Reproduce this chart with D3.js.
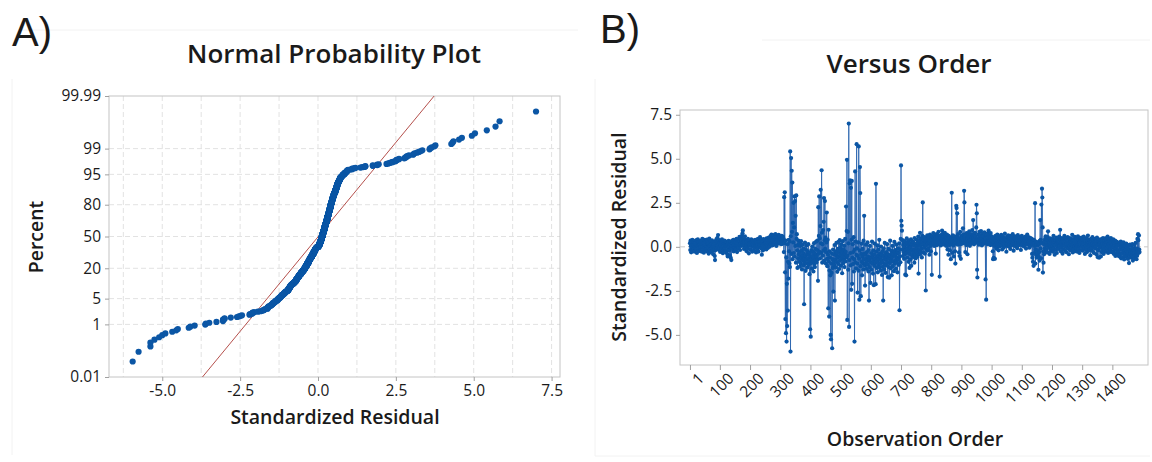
<!DOCTYPE html>
<html><head><meta charset="utf-8">
<script src="https://cdn.jsdelivr.net/npm/d3@7"></script>
<style>
html,body{margin:0;padding:0;background:#fff;}
svg text{font-family:"Open Sans","Noto Sans",sans-serif;fill:#1a1a1a;}
</style></head><body>
<svg id="chart" width="1152" height="462"></svg>
<script>
// Standardized residuals in observation order (obs 1..1490)
const residuals = [
0.21,-0.18,0.35,0.04,-0.31,0.12,0.27,-0.09,0.40,-0.22,
0.15,0.30,-0.12,0.08,-0.27,0.33,0.02,0.19,-0.06,0.26,
-0.15,0.38,0.11,-0.35,0.22,0.05,0.43,-0.10,0.17,0.29,
-0.24,0.09,0.31,0.14,-0.03,0.25,-0.19,0.36,0.07,-0.28,
0.18,0.45,0.01,-0.14,0.28,0.13,-0.33,0.20,0.39,-0.07,
0.10,-0.21,0.34,0.24,-0.11,0.06,0.41,-0.26,0.16,0.30,
-0.04,0.23,-0.38,0.12,0.47,0.03,-0.16,0.27,0.09,-0.30,
0.32,0.14,-0.08,0.37,-0.23,0.19,0.05,-0.42,0.25,0.11,
-0.13,0.29,-0.52,-0.75,-0.20,0.16,0.35,0.02,0.44,-0.10,
0.22,0.51,0.08,0.67,0.30,-0.17,0.13,0.38,-0.05,0.26,
-0.29,0.18,0.07,0.33,-0.12,0.24,0.42,-0.02,0.15,-0.36,
0.28,0.04,-0.19,0.21,0.36,-0.09,0.12,0.31,-0.25,0.17,
0.06,-0.33,0.26,0.10,-0.44,-0.55,0.19,-0.14,0.34,0.01,
-0.21,0.23,-0.48,0.14,0.29,-0.62,-0.07,-0.75,0.09,0.20,
0.35,-0.11,0.18,0.03,0.40,-0.26,0.13,0.27,-0.04,0.22,
0.11,0.32,-0.15,0.24,0.46,0.07,-0.30,0.19,0.37,0.02,
0.25,-0.08,0.41,0.15,0.56,0.30,-0.18,0.12,0.48,0.21,
0.05,0.34,0.62,0.18,0.77,0.93,0.44,0.08,0.28,-0.12,
0.36,0.14,0.60,-0.06,0.23,0.39,0.10,-0.24,0.31,0.17,
-0.09,0.27,0.45,0.04,0.20,-0.37,0.13,0.35,0.08,0.26,
0.18,-0.16,0.30,0.42,0.06,0.24,-0.28,0.15,0.37,0.01,
0.29,0.11,-0.21,0.33,0.19,-0.05,0.40,0.22,0.07,-0.32,
0.14,0.38,0.25,-0.13,0.09,0.46,0.16,-0.27,0.31,0.20,
0.03,0.27,0.55,0.35,0.12,-0.08,0.23,0.41,-0.45,0.18,
0.32,0.06,-0.20,0.26,0.44,0.13,-0.11,0.36,0.21,0.02,
0.39,0.17,0.28,-0.15,0.48,0.10,0.33,0.24,-0.06,0.42,
0.20,0.53,0.12,0.35,0.01,0.45,0.27,0.61,0.16,0.38,
0.70,0.25,0.49,0.08,0.34,0.57,0.19,0.43,0.66,0.30,
0.14,0.52,0.37,0.72,0.26,0.46,0.05,0.58,0.32,0.64,
0.41,0.22,0.55,0.35,0.68,0.18,0.47,0.29,0.60,0.38,
0.24,0.51,0.42,0.15,0.63,0.33,0.48,0.20,0.57,0.36,
0.45,-0.30,2.82,0.20,3.10,-1.45,-4.10,0.35,-4.90,-0.60,
-5.38,-2.10,-4.50,0.15,-3.62,-0.85,-1.80,0.40,-0.25,-0.95,
0.30,-1.15,5.42,-5.95,0.60,5.04,-0.40,4.32,0.85,3.65,
-0.70,1.36,0.25,2.50,-0.35,1.10,2.86,-0.55,2.60,0.05,
1.76,-0.90,2.92,0.45,0.72,-0.20,-1.20,0.10,-0.65,0.35,
-0.42,0.18,-0.85,-0.30,-1.12,0.05,-0.58,-0.95,0.32,-0.66,
-0.20,-1.28,-0.48,0.12,-0.77,-0.35,-1.05,-0.10,-3.26,-0.62,
-0.88,0.24,-0.51,-1.36,-0.15,-0.72,0.08,-0.94,-0.40,-1.18,
-0.26,-0.67,0.15,-1.02,-0.45,-0.81,-1.55,-0.33,-4.68,-0.57,
-5.10,-0.92,-0.18,-0.70,-1.24,0.02,-0.53,-0.86,-0.29,-1.40,
-0.64,0.21,-0.98,-0.37,-1.15,-0.12,-0.75,-0.46,0.30,-0.89,
-0.55,-0.18,0.35,-0.72,-1.93,2.25,-0.40,0.62,2.86,-0.28,
0.48,-0.65,1.18,3.24,0.20,-0.35,4.35,0.80,-0.90,0.15,
-0.50,0.95,-0.22,1.42,2.77,-0.78,0.38,2.60,-0.12,0.52,
-0.95,-0.30,0.25,1.95,-0.68,-1.10,0.40,-0.45,-3.49,0.97,
-0.82,-3.96,-1.35,-0.25,-0.60,-1.62,-5.00,-5.25,-0.95,-1.48,
-0.38,-5.76,-0.70,-1.20,-0.15,-2.54,-0.88,-0.42,-1.05,0.10,
-3.05,-0.72,-0.25,-1.18,-0.48,0.22,-0.86,-0.33,-1.42,-0.61,
-0.12,-0.97,0.28,-0.54,-1.26,-0.27,0.38,-0.78,-0.06,-0.45,
-1.08,0.14,-0.66,-0.35,-1.50,-0.20,0.32,-0.92,-0.52,-0.15,
-0.74,0.06,-1.15,-0.40,0.45,-0.83,-0.28,2.29,-0.60,0.90,
4.94,-4.15,-0.50,0.85,-1.30,0.20,7.00,-4.55,-0.75,3.60,
3.77,-0.35,-1.05,3.35,-2.44,0.40,3.74,-2.10,-0.62,0.15,
-0.98,-0.30,0.55,-1.40,-0.70,-5.38,-0.15,4.28,-0.88,0.30,
-1.22,-0.46,5.83,-0.08,-0.95,-2.60,-0.52,0.25,-1.35,5.70,
-0.67,-3.00,-0.20,4.53,3.05,-1.10,-2.80,-0.40,-0.85,0.18,
-1.62,-0.55,-0.12,-0.93,-1.28,0.35,-0.70,1.76,-0.38,-1.05,
-2.20,-0.45,-0.92,0.12,-0.68,-1.25,-0.30,-0.80,0.25,-1.02,
-0.55,-1.40,-0.18,-3.05,-0.72,-1.15,0.05,-0.60,-2.05,-0.88,
-0.35,-1.30,-0.62,0.30,-0.95,-0.48,-1.52,-0.20,-0.77,-2.18,
-0.42,-1.08,0.18,-0.66,-0.90,-2.12,3.58,-0.28,-1.20,-0.56,
-0.83,0.08,-1.45,-0.50,-0.15,-1.02,-0.70,0.40,-1.18,-0.38,
-0.95,-0.60,-1.35,0.02,-0.78,-0.45,-1.60,-0.25,-0.88,-1.12,
-3.05,-0.52,-0.10,-1.28,-0.68,0.22,-0.98,-0.40,-1.48,-0.74,
-0.30,-1.05,-0.58,0.15,-0.86,-1.72,-0.42,-0.12,-1.15,-0.64,
-1.75,-0.48,-0.92,0.35,-0.70,-1.22,-0.20,-0.80,-1.62,-0.36,
-0.58,0.05,-1.10,-0.44,-0.82,-1.38,-0.25,0.28,-0.96,-0.52,
-0.18,-0.75,-1.25,-0.40,0.12,-0.90,-0.62,-1.45,-0.30,-0.08,
-0.70,-0.35,-1.02,0.20,-3.60,-0.55,-0.15,-0.88,0.45,4.62,
1.48,1.20,0.92,-0.15,0.38,-0.52,0.10,-0.30,0.25,-0.68,
-0.05,0.32,-0.42,-1.58,-0.20,0.15,-1.62,-0.35,0.48,-0.10,
-0.62,0.22,-0.28,0.05,-0.85,0.36,-0.12,-1.20,-0.40,0.18,
-0.05,-0.72,0.42,-1.08,-0.22,0.12,-0.48,0.30,-0.15,-0.58,
0.26,-0.32,0.08,-0.90,0.50,-0.18,-0.45,0.16,-0.65,0.02,
-0.25,0.40,-0.08,-0.55,0.22,-0.35,0.58,-1.52,0.10,-0.20,
0.32,-0.42,0.80,0.05,-0.28,0.45,-0.12,0.18,-0.60,0.28,
0.62,2.52,0.15,-0.32,0.40,-0.05,0.55,0.20,-0.38,0.12,
0.35,-2.48,0.08,0.48,-0.15,0.30,0.65,-0.22,0.18,0.42,
-0.10,0.52,0.25,-0.45,0.38,0.70,0.05,0.33,-0.25,0.58,
0.45,-1.59,0.22,0.60,0.35,0.12,0.78,0.28,0.50,0.05,
0.40,0.65,0.18,0.32,-0.38,0.55,0.26,0.72,0.10,0.44,
0.30,0.58,0.15,0.85,0.38,0.20,0.48,-1.69,0.62,0.25,
0.52,0.08,0.40,0.68,0.34,0.92,0.16,0.45,0.28,0.75,
0.36,0.55,0.12,0.42,0.80,0.22,0.60,0.30,0.48,0.05,
0.38,0.70,0.25,-0.15,0.46,0.18,-0.45,0.62,0.32,0.10,
0.55,-0.20,0.40,0.28,-0.70,0.15,0.50,3.07,0.35,-0.35,
0.22,0.65,0.08,0.42,-0.55,0.30,0.58,0.18,-0.25,-0.95,
0.45,0.25,2.33,2.20,0.60,1.90,0.38,0.12,0.72,0.28,
0.50,-0.32,0.20,-0.52,0.44,0.85,0.15,-0.68,0.36,0.58,
0.30,0.65,0.18,0.48,1.05,0.26,0.40,0.70,3.18,2.52,
0.55,0.22,-0.30,0.62,0.38,0.10,0.78,0.32,0.50,-0.42,
0.45,0.28,0.68,0.15,0.52,0.88,0.35,0.06,0.60,0.40,
0.25,0.72,0.42,0.18,0.55,0.95,0.30,0.62,1.52,0.48,
0.35,0.14,0.66,0.40,0.80,0.22,0.58,0.32,1.10,2.39,
1.90,-1.30,-1.74,0.45,0.28,0.70,0.38,0.12,0.55,0.85,
0.42,0.20,0.64,0.36,0.90,0.25,0.50,0.08,0.74,0.44,
0.30,0.58,0.16,0.62,0.40,0.82,0.26,0.52,0.35,-1.85,
0.48,-3.00,0.22,0.65,0.38,0.75,0.15,0.55,0.30,0.92,
0.40,0.18,0.68,0.34,0.52,0.10,0.78,0.44,0.25,0.60,
0.35,0.12,0.55,-0.25,-0.70,0.28,-0.62,0.45,0.18,0.05,
-0.68,0.30,0.62,0.15,0.40,-0.10,0.52,0.22,0.70,0.08,
0.38,0.18,-0.20,0.48,0.26,0.60,0.02,0.35,0.14,0.50,
0.24,0.68,0.10,0.42,-0.15,0.32,0.56,0.20,0.44,-0.05,
0.30,0.50,0.16,0.75,0.28,0.06,0.46,0.22,-0.28,0.38,
0.12,0.58,0.34,0.20,0.65,0.02,0.40,0.26,0.52,0.15,
0.44,-0.12,0.30,0.62,0.18,0.36,0.08,0.54,0.25,0.72,
0.20,0.40,-0.22,0.32,0.56,0.14,0.46,0.28,0.04,0.60,
0.36,0.18,0.50,0.26,-0.08,0.42,0.66,0.22,0.34,0.10,
0.48,0.30,0.12,0.55,0.24,0.38,-0.18,0.44,0.16,0.62,
0.28,0.08,0.40,0.20,0.52,0.34,0.02,0.46,0.26,0.14,
0.38,0.58,0.22,-0.10,0.32,0.48,0.16,0.70,0.28,0.40,
0.12,0.35,0.55,0.24,-0.05,0.42,0.18,0.30,0.50,0.06,
0.34,0.22,0.46,-0.40,-0.62,0.15,-0.85,0.28,-1.08,0.40,
0.20,-0.35,0.05,2.48,-0.95,-0.15,0.30,-0.48,0.12,-0.62,
-0.22,0.25,-0.40,0.10,-1.30,-0.55,0.18,-0.30,-0.78,0.35,
1.52,-0.10,0.40,-0.65,2.40,0.22,3.30,2.80,1.10,-1.46,
-0.25,-0.90,0.15,-0.42,0.32,-0.08,0.45,-0.30,0.60,0.10,
0.28,-0.15,0.42,0.10,-0.32,0.55,0.88,0.20,-0.05,0.35,
0.12,-0.40,0.25,0.48,0.02,-0.22,0.38,0.15,-0.10,0.30,
0.05,0.44,-0.28,0.20,0.62,-0.08,0.32,0.10,-0.45,0.26,
0.40,0.08,-0.18,0.52,0.22,-0.35,0.14,0.46,0.00,0.28,
-0.12,0.36,0.18,0.58,0.05,0.30,0.97,0.42,-0.25,0.12,
0.24,-0.06,0.50,0.16,-0.38,0.34,0.08,0.45,-0.15,0.20,
0.62,0.10,-0.22,0.32,0.04,0.48,-0.30,0.18,0.40,-0.02,
0.26,0.55,-0.10,0.14,0.36,-0.42,0.22,0.06,0.50,0.18,
-0.20,0.30,0.12,0.44,-0.05,0.25,0.68,0.08,-0.32,0.38,
0.15,-0.15,0.42,0.20,0.02,0.56,-0.25,0.30,0.10,-0.08,
0.35,0.48,0.05,-0.28,0.22,0.60,0.12,-0.12,0.40,0.18,
-0.35,0.26,0.08,0.46,0.14,-0.18,0.32,0.52,0.00,0.24,
0.10,-0.22,0.38,0.18,0.58,-0.05,0.28,0.42,-0.40,0.15,
0.30,0.05,-0.14,0.50,0.20,-0.30,0.36,0.12,0.64,-0.02,
0.22,0.40,-0.20,0.08,0.34,0.16,-0.48,0.26,0.45,0.02,
-0.10,0.30,0.14,0.55,-0.25,0.20,0.38,0.06,-0.35,0.28,
0.12,0.46,-0.08,0.24,0.04,0.35,-0.42,0.18,0.52,-0.15,
-0.58,0.10,0.32,-0.20,0.42,-0.62,0.15,0.28,-0.05,0.38,
0.20,-0.55,0.08,0.44,-0.30,0.25,0.12,-0.12,0.50,0.02,
-0.40,0.30,0.18,-0.18,0.36,0.06,0.48,-0.28,0.22,0.10,
0.40,-0.10,0.26,0.58,0.04,-0.35,0.32,0.14,-0.22,0.45,
0.16,0.34,-0.12,0.22,0.50,-0.30,0.08,0.28,-0.05,0.38,
0.12,-0.25,0.42,0.02,-0.40,0.24,0.10,-0.15,0.35,-0.52,
0.20,-0.08,0.30,-0.35,0.05,0.18,-0.48,0.26,-0.20,0.10,
-0.30,0.15,-0.55,0.08,0.22,-0.42,-0.12,0.30,-0.65,-0.02,
0.12,-0.38,-0.18,0.20,-0.60,-0.05,0.25,-0.30,-0.72,0.05,
-0.22,-0.48,0.10,-0.35,-0.15,0.18,-0.55,-0.28,0.02,-0.42,
-0.68,-0.10,-0.32,0.08,-0.92,-0.45,-0.20,0.12,-0.58,-0.25,
-0.38,0.05,-0.62,-0.15,-0.48,0.15,-0.30,-0.78,-0.08,-0.40,
-0.20,-0.55,0.10,-0.35,-0.65,-0.12,0.22,-0.45,-0.28,-0.70,
-0.10,-0.50,0.45,-0.25,0.72,0.38,-0.35,0.65,-0.15,-0.30
];

// Axis ticks / labels
const percentTicks = [0.01, 1, 5, 20, 50, 80, 95, 99, 99.99];
const percentTickLabels = ["0.01", "1", "5", "20", "50", "80", "95", "99", "99.99"];
const percentGrid = [1, 5, 20, 50, 80, 95, 99];
const residualTicks = [-5, -2.5, 0, 2.5, 5, 7.5];
const residualTickLabels = ["-5.0", "-2.5", "0.0", "2.5", "5.0", "7.5"];
const residualGrid = [-6.25, -5, -3.75, -2.5, -1.25, 0, 1.25, 2.5, 3.75, 5, 6.25, 7.5];
const orderTicks = [1, 100, 200, 300, 400, 500, 600, 700, 800, 900, 1000, 1100, 1200, 1300, 1400];
const residualDomain = [-6.71, 7.77];
const orderDomain = [-32, 1518];
// Fitted normal reference line
const fitMean = [0.01];
const fitSd = [1.0];

function probit(p){
  const a=[-3.969683028665376e+01,2.209460984245205e+02,-2.759285104469687e+02,1.383577518672690e+02,-3.066479806614716e+01,2.506628277459239e+00];
  const b=[-5.447609879822406e+01,1.615858368580409e+02,-1.556989798598866e+02,6.680131188771972e+01,-1.328068155288572e+01];
  const c=[-7.784894002430293e-03,-3.223964580411365e-01,-2.400758277161838e+00,-2.549732539343734e+00,4.374664141464968e+00,2.938163982698783e+00];
  const d=[7.784695709041462e-03,3.224671290700398e-01,2.445134137142996e+00,3.754408661907416e+00];
  const pl=0.02425, ph=1-pl; let q,r;
  if(p<pl){q=Math.sqrt(-2*Math.log(p));return (((((c[0]*q+c[1])*q+c[2])*q+c[3])*q+c[4])*q+c[5])/((((d[0]*q+d[1])*q+d[2])*q+d[3])*q+1);}
  if(p<=ph){q=p-0.5;r=q*q;return (((((a[0]*r+a[1])*r+a[2])*r+a[3])*r+a[4])*r+a[5])*q/(((((b[0]*r+b[1])*r+b[2])*r+b[3])*r+b[4])*r+1);}
  q=Math.sqrt(-2*Math.log(1-p));return -(((((c[0]*q+c[1])*q+c[2])*q+c[3])*q+c[4])*q+c[5])/((((d[0]*q+d[1])*q+d[2])*q+d[3])*q+1);
}

const BLUE = "#0b56a5";
const svg = d3.select("#chart");

// faint panel frames as in the source image
svg.append("path").attr("d", "M12,79 V455 M20,30 H578").attr("stroke", "#f2f2f2").attr("fill", "none");
svg.append("path").attr("d", "M595,79 V456 H1150 M762,40 H1150").attr("stroke", "#f2f2f2").attr("fill", "none");

// ---------- Panel A: Normal probability plot ----------
const A = {x0:109, x1:560, y0:96, y1:377};
const zMax = probit(0.9999);
const xA = d3.scaleLinear().domain(residualDomain).range([A.x0, A.x1]);
const yA = d3.scaleLinear().domain([-zMax, zMax]).range([A.y1, A.y0]);
const gA = svg.append("g");

gA.append("text").attr("x", 12).attr("y", 46).text("A)")
  .style("font-family", "'Liberation Sans',Arial,sans-serif").style("font-size", "40px");
gA.append("text").attr("x", 334).attr("y", 63).attr("text-anchor", "middle")
  .style("font-size", "26px").style("font-weight", 600).text("Normal Probability Plot");

gA.selectAll(".gx").data(residualGrid).join("line")
  .attr("x1", d => xA(d)).attr("x2", d => xA(d)).attr("y1", A.y0).attr("y2", A.y1)
  .attr("stroke", "#e2e2e2").attr("stroke-dasharray", "5,3");
gA.selectAll(".gy").data(percentGrid).join("line")
  .attr("x1", A.x0).attr("x2", A.x1).attr("y1", d => yA(probit(d/100))).attr("y2", d => yA(probit(d/100)))
  .attr("stroke", "#e2e2e2").attr("stroke-dasharray", "5,3");

gA.append("rect").attr("x", A.x0).attr("y", A.y0).attr("width", A.x1 - A.x0).attr("height", A.y1 - A.y0)
  .attr("fill", "none").attr("stroke", "#c4c4c4");

const axAy = d3.axisLeft(yA).tickValues(percentTicks.map(p => probit(p/100)))
  .tickFormat((d, i) => percentTickLabels[i]).tickSize(4).tickPadding(4);
const gAy = gA.append("g").attr("transform", `translate(${A.x0},0)`).call(axAy);
const axAx = d3.axisBottom(xA).tickValues(residualTicks)
  .tickFormat((d, i) => residualTickLabels[i]).tickSize(4).tickPadding(4);
const gAx = gA.append("g").attr("transform", `translate(0,${A.y1})`).call(axAx);
[gAy, gAx].forEach(g => {
  g.select(".domain").remove();
  g.selectAll(".tick line").attr("stroke", "#a0a0a0");
  g.selectAll(".tick text").style("font-size", "15.5px").style("font-family", "'Open Sans',sans-serif").attr("fill", "#1a1a1a");
});

// fitted line
const zEnds = [-zMax, zMax];
gA.append("line")
  .attr("x1", xA(fitMean[0] + fitSd[0]*zEnds[0])).attr("y1", yA(zEnds[0]))
  .attr("x2", xA(fitMean[0] + fitSd[0]*zEnds[1])).attr("y2", yA(zEnds[1]))
  .attr("stroke", "#b5504c").attr("stroke-width", 1);

const sorted = residuals.slice().sort(d3.ascending);
const n = sorted.length;
const probPts = sorted.map((v, i) => ({v, z: probit((i + 1 - 0.3)/(n + 0.4))}));
gA.append("g").selectAll("circle").data(probPts).join("circle")
  .attr("cx", d => xA(d.v)).attr("cy", d => yA(d.z)).attr("r", 3.1).attr("fill", BLUE);

gA.append("text").attr("x", 335).attr("y", 424).attr("text-anchor", "middle")
  .style("font-size", "19.5px").style("font-weight", 600).text("Standardized Residual");
gA.append("text").attr("transform", "translate(43,237) rotate(-90)").attr("text-anchor", "middle")
  .style("font-size", "19.5px").style("font-weight", 600).text("Percent");

// ---------- Panel B: Versus order ----------
const B = {x0:680, x1:1148, y0:110, y1:365};
const xB = d3.scaleLinear().domain(orderDomain).range([B.x0, B.x1]);
const yB = d3.scaleLinear().domain(residualDomain).range([B.y1, B.y0]);
const gB = svg.append("g");

gB.append("text").attr("x", 600).attr("y", 43).text("B)")
  .style("font-family", "'Liberation Sans',Arial,sans-serif").style("font-size", "40px");
gB.append("text").attr("x", 909).attr("y", 73).attr("text-anchor", "middle")
  .style("font-size", "26px").style("font-weight", 600).text("Versus Order");

gB.append("rect").attr("x", B.x0).attr("y", B.y0).attr("width", B.x1 - B.x0).attr("height", B.y1 - B.y0)
  .attr("fill", "none").attr("stroke", "#c4c4c4");
gB.append("line").attr("x1", B.x0).attr("x2", B.x1).attr("y1", yB(0)).attr("y2", yB(0))
  .attr("stroke", "#c8c8c8").attr("stroke-dasharray", "5,3");

const axBy = d3.axisLeft(yB).tickValues(residualTicks)
  .tickFormat((d, i) => residualTickLabels[i]).tickSize(4).tickPadding(4);
const gBy = gB.append("g").attr("transform", `translate(${B.x0},0)`).call(axBy);
const axBx = d3.axisBottom(xB).tickValues(orderTicks).tickFormat(d3.format("d")).tickSize(5).tickPadding(3);
const gBx = gB.append("g").attr("transform", `translate(0,${B.y1})`).call(axBx);
[gBy, gBx].forEach(g => {
  g.select(".domain").remove();
  g.selectAll(".tick line").attr("stroke", "#a0a0a0");
  g.selectAll(".tick text").style("font-size", "15.5px").style("font-family", "'Open Sans',sans-serif").attr("fill", "#1a1a1a");
});
gBx.selectAll(".tick text")
  .attr("text-anchor", "end").attr("dy", "0.35em")
  .attr("transform", "translate(5,5) rotate(-45)");

const orderPts = residuals.map((v, i) => ({o: i + 1, v}));
gB.append("path").datum(orderPts)
  .attr("d", d3.line().x(d => xB(d.o)).y(d => yB(d.v)))
  .attr("fill", "none").attr("stroke", "#2d66b0").attr("stroke-width", 0.9);
gB.append("g").selectAll("circle").data(orderPts).join("circle")
  .attr("cx", d => xB(d.o)).attr("cy", d => yB(d.v)).attr("r", 2.1).attr("fill", BLUE);

gB.append("text").attr("x", 915).attr("y", 446).attr("text-anchor", "middle")
  .style("font-size", "19.5px").style("font-weight", 600).text("Observation Order");
gB.append("text").attr("transform", "translate(626,237) rotate(-90)").attr("text-anchor", "middle")
  .style("font-size", "19.5px").style("font-weight", 600).text("Standardized Residual");
</script>
</body></html>
